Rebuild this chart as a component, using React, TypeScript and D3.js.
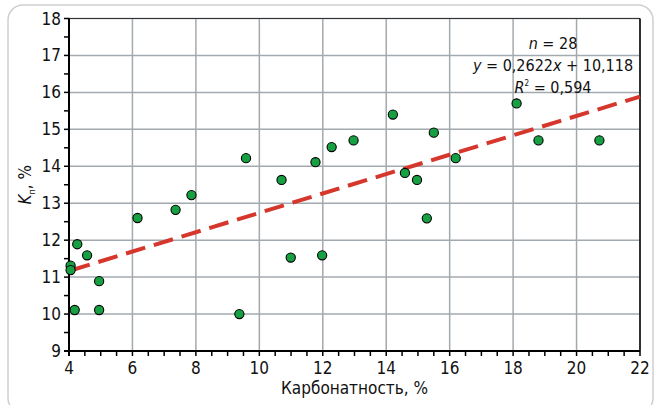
import * as d3 from 'd3'
import React from 'react'

// carbonate content, % (x) vs porosity Kп, % (y)
const carbonate = [4.05, 4.05, 4.18, 4.26, 4.57, 4.95, 4.95, 6.16, 7.36, 7.86, 9.37, 9.58, 10.7, 10.99, 11.77, 11.98, 12.28, 12.97, 14.21, 14.59, 14.97, 15.28, 15.5, 16.19, 18.11, 18.8, 20.72]
const porosity = [11.31, 11.19, 10.11, 11.89, 11.59, 10.89, 10.11, 12.6, 12.82, 13.22, 10.0, 14.22, 13.63, 11.53, 14.11, 11.59, 14.52, 14.7, 15.4, 13.82, 13.63, 12.59, 14.91, 14.22, 15.7, 14.7, 14.7]

const xTicks = [4, 6, 8, 10, 12, 14, 16, 18, 20, 22]
const yTicks = [9, 10, 11, 12, 13, 14, 15, 16, 17, 18]
const slope = 0.2622
const intercept = 10.118
const trendRange = [4.05, 22]

const W = 655
const H = 405
const font = '"Liberation Sans Narrow", "DejaVu Sans Condensed", sans-serif'

export default function App() {
  const x = d3.scaleLinear().domain([4, 22]).range([69, 640])
  const y = d3.scaleLinear().domain([9, 18]).range([351, 18.5])

  const xMinor = d3.range(4, 22.01, 0.5)
  const yMinor = d3.range(9, 18.01, 0.5)

  const trend = d3
    .line<number>()
    .x((d) => x(d))
    .y((d) => y(slope * d + intercept))(trendRange)

  const pts = carbonate.map((c, i) => [c, porosity[i]])

  return (
    <svg
      width={W}
      height={H}
      style={{ position: 'absolute', left: 0, top: 0, background: '#fff' }}
      fontFamily={font}
    >
      {/* frame */}
      <rect x={8} y={5} width={645} height={408} rx={15} fill="none" stroke="#cfcfcf" strokeWidth={1.5} />

      {/* grid */}
      {xTicks.map((t) => (
        <line key={'gx' + t} x1={x(t)} x2={x(t)} y1={y(9)} y2={y(18)} stroke="#a3aaaf" strokeWidth={1.5} />
      ))}
      {yTicks.map((t) => (
        <line key={'gy' + t} x1={x(4)} x2={x(22)} y1={y(t)} y2={y(t)} stroke="#a3aaaf" strokeWidth={1.5} />
      ))}

      {/* plot border */}
      <line x1={x(4)} x2={x(22)} y1={y(18)} y2={y(18)} stroke="#333" strokeWidth={1.2} />
      <line x1={x(22)} x2={x(22)} y1={y(18)} y2={y(9)} stroke="#000" strokeWidth={1.5} />

      {/* axes */}
      <line x1={x(4)} x2={x(4)} y1={y(18)} y2={y(9) + 5} stroke="#000" strokeWidth={2} />
      <line x1={x(4) - 5} x2={x(22)} y1={y(9)} y2={y(9)} stroke="#000" strokeWidth={2} />
      {xMinor.map((t) => (
        <line key={'tx' + t} x1={x(t)} x2={x(t)} y1={y(9)} y2={y(9) + 5} stroke="#000" strokeWidth={1.5} />
      ))}
      {yMinor.map((t) => (
        <line key={'ty' + t} x1={x(4) - 5} x2={x(4)} y1={y(t)} y2={y(t)} stroke="#000" strokeWidth={1.5} />
      ))}

      {/* tick labels */}
      {xTicks.map((t) => (
        <text key={'lx' + t} x={x(t)} y={y(9) + 23} textAnchor="middle" fontSize={17} fill="#111">
          {t}
        </text>
      ))}
      {yTicks.map((t) => (
        <text key={'ly' + t} x={x(4) - 8} y={y(t) + 6} textAnchor="end" fontSize={17} fill="#111">
          {t}
        </text>
      ))}

      {/* axis titles */}
      <text x={(x(4) + x(22)) / 2} y={394} textAnchor="middle" fontSize={17} fill="#111">
        Карбонатность, %
      </text>
      <text transform={`translate(31,${y(13.5)}) rotate(-90)`} textAnchor="middle" fontSize={17} fill="#111">
        <tspan fontStyle="italic">K</tspan>
        <tspan fontSize={9} dy={4}>п</tspan>
        <tspan dy={-4}>, %</tspan>
      </text>

      {/* trend */}
      <path d={trend || ''} fill="none" stroke="#d6372c" strokeWidth={4} strokeDasharray="20,9" />

      {/* points */}
      {pts.map(([c, p], i) => (
        <circle key={i} cx={x(c)} cy={y(p)} r={4.6} fill="#16a041" stroke="#000" strokeWidth={1.1} />
      ))}

      {/* regression annotation */}
      <g fontSize={16} fill="#111" textAnchor="middle">
        <text x={553} y={49}>
          <tspan fontStyle="italic">n</tspan> = 28
        </text>
        <text x={553} y={71}>
          <tspan fontStyle="italic">y</tspan> = 0,2622<tspan fontStyle="italic">x</tspan> + 10,118
        </text>
        <text x={553} y={93}>
          <tspan fontStyle="italic">R</tspan>
          <tspan fontSize={8} dy={-7}>2</tspan>
          <tspan dy={7}> = 0,594</tspan>
        </text>
      </g>
    </svg>
  )
}
